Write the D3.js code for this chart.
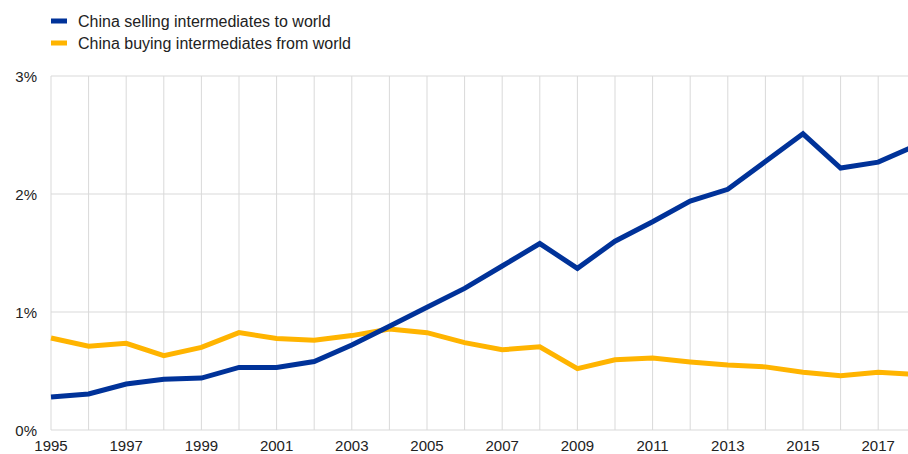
<!DOCTYPE html>
<html>
<head>
<meta charset="utf-8">
<script src="https://cdn.jsdelivr.net/npm/d3@7"></script>
<style>
  html, body { margin: 0; padding: 0; background: #fff; overflow: hidden; }
  svg { display: block; font-family: "Liberation Sans", Arial, sans-serif; }
</style>
</head>
<body>
<svg id="chart" width="908" height="454"></svg>
<script>
const years = d3.range(1995, 2019);
const selling = [0.28, 0.305, 0.39, 0.43, 0.44, 0.53, 0.53, 0.58, 0.72, 0.88, 1.04, 1.20, 1.39, 1.58, 1.37, 1.60, 1.765, 1.94, 2.04, 2.275, 2.51, 2.22, 2.27, 2.41];
const buying  = [0.78, 0.71, 0.735, 0.63, 0.70, 0.825, 0.775, 0.76, 0.80, 0.855, 0.825, 0.74, 0.68, 0.705, 0.52, 0.595, 0.61, 0.577, 0.55, 0.535, 0.49, 0.46, 0.49, 0.47];
const seriesNames = ["China selling intermediates to world", "China buying intermediates from world"];
const seriesColors = ["#003299", "#ffb400"];
const yTicks = [0, 1, 2, 3];
const xTickLabels = d3.range(1995, 2018, 2);

const svg = d3.select("#chart");
const x = d3.scaleLinear().domain([1995, 2018]).range([51, 915.8]);
const y = d3.scaleLinear().domain([0, 3]).range([430, 76]);

// vertical gridlines
svg.append("g").selectAll("line").data(years).join("line")
  .attr("x1", d => x(d)).attr("x2", d => x(d))
  .attr("y1", y(3)).attr("y2", y(0))
  .attr("stroke", "#d9d9d9").attr("stroke-width", 1);

// horizontal gridlines
svg.append("g").selectAll("line").data(yTicks).join("line")
  .attr("x1", x(1995)).attr("x2", 908)
  .attr("y1", d => y(d)).attr("y2", d => y(d))
  .attr("stroke", "#d9d9d9").attr("stroke-width", 1);

// y labels
svg.append("g").selectAll("text").data(yTicks).join("text")
  .attr("x", 37).attr("y", d => y(d))
  .attr("text-anchor", "end").attr("dominant-baseline", "central")
  .attr("font-size", 15).attr("fill", "#222")
  .text(d => d + "%");

// x labels
svg.append("g").selectAll("text").data(xTickLabels).join("text")
  .attr("x", d => x(d)).attr("y", 451)
  .attr("text-anchor", "middle")
  .attr("font-size", 15).attr("fill", "#222")
  .text(d => d);

const line = d3.line().x((d, i) => x(years[i])).y(d => y(d));
[buying, selling].forEach((s, k) => {
  const idx = k === 0 ? 1 : 0;
  svg.append("path").datum(s)
    .attr("d", line)
    .attr("fill", "none")
    .attr("stroke", seriesColors[idx])
    .attr("stroke-width", 5)
    .attr("stroke-linejoin", "miter");
});

// legend
const lg = svg.append("g");
seriesNames.forEach((n, i) => {
  const cy = 21 + i * 22;
  lg.append("rect").attr("x", 51).attr("y", cy - 2.5).attr("width", 16).attr("height", 5)
    .attr("fill", seriesColors[i]);
  lg.append("text").attr("x", 78).attr("y", cy).attr("dominant-baseline", "central")
    .attr("font-size", 16).attr("fill", "#222").text(n);
});
</script>
</body>
</html>
